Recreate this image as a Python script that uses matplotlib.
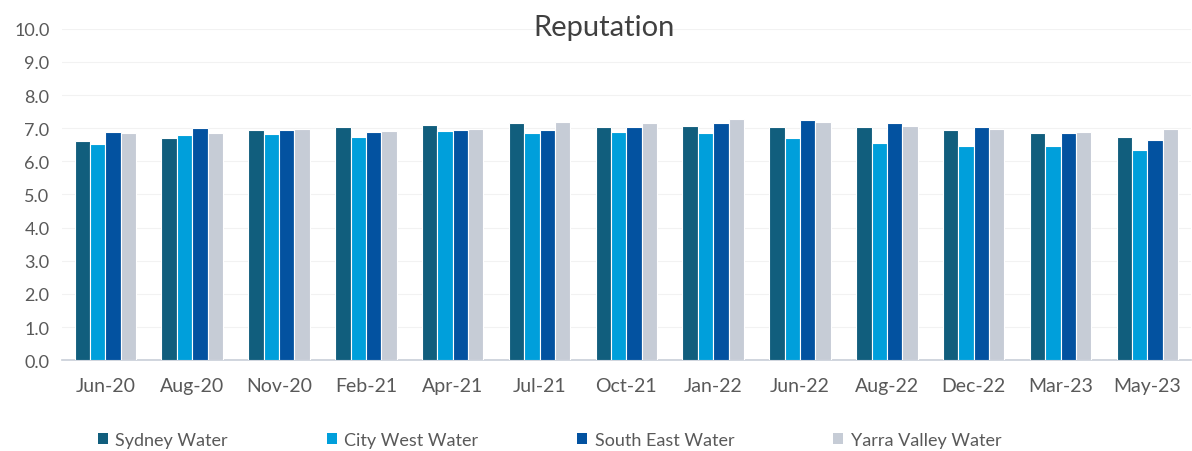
import matplotlib
matplotlib.use('Agg')
import matplotlib.pyplot as plt
import numpy as np
from matplotlib.patches import Patch

plt.rcParams['font.family'] = ['Lato', 'DejaVu Sans']

periods = ['Jun-20', 'Aug-20', 'Nov-20', 'Feb-21', 'Apr-21', 'Jul-21', 'Oct-21',
           'Jan-22', 'Jun-22', 'Aug-22', 'Dec-22', 'Mar-23', 'May-23']
sydney     = [6.62, 6.72, 6.94, 7.04, 7.11, 7.15, 7.04, 7.08, 7.04, 7.04, 6.95, 6.85, 6.75]
city_west  = [6.52, 6.79, 6.82, 6.75, 6.91, 6.85, 6.88, 6.85, 6.71, 6.55, 6.45, 6.45, 6.34]
south_east = [6.88, 7.01, 6.94, 6.88, 6.94, 6.94, 7.04, 7.15, 7.24, 7.15, 7.04, 6.85, 6.65]
yarra      = [6.85, 6.85, 6.98, 6.91, 6.98, 7.18, 7.15, 7.27, 7.18, 7.08, 6.98, 6.88, 6.98]

series = [('Sydney Water', sydney, '#115E7D'),
          ('City West Water', city_west, '#009FDB'),
          ('South East Water', south_east, '#0352A0'),
          ('Yarra Valley Water', yarra, '#C6CCD6')]

fig = plt.figure(figsize=(11.92, 4.52), dpi=100)
ax = fig.add_axes([0.052, 0.201, 0.947, 0.733])

x = np.arange(len(periods))
w = 0.177
for i, (name, vals, col) in enumerate(series):
    ax.bar(x + (i - 1.5) * w, vals, width=w, color=col, edgecolor='white',
           linewidth=0.8, zorder=3, label=name)

ax.set_xlim(-0.5, len(periods) - 0.5)
ax.set_ylim(0, 10)
ax.set_yticks(np.arange(0, 10.1, 1.0))
ax.set_yticklabels([f'{v:.1f}' for v in np.arange(0, 10.1, 1.0)])
ax.set_xticks(x)
ax.set_xticklabels(periods)
ax.tick_params(axis='both', length=0, colors='#595959')
ax.tick_params(axis='x', pad=12, labelsize=14)
ax.tick_params(axis='y', pad=9, labelsize=13)
ax.grid(axis='y', color='#F2F2F2', linewidth=0.8, zorder=0)
for s in ['top', 'right', 'left']:
    ax.spines[s].set_visible(False)
ax.spines['bottom'].set_color('#C8CED8')
ax.spines['bottom'].set_linewidth(1.2)

fig.text(0.507, 0.938, 'Reputation', ha='center', va='center', fontsize=21, color='#404040')

handles = [Patch(facecolor=c, edgecolor='none') for _, _, c in series]
fig.legend(handles, [n for n, _, _ in series], loc='center', ncol=4,
           bbox_to_anchor=(0.461, 0.025), frameon=False, fontsize=13,
           handlelength=0.55, handleheight=0.55, handletextpad=0.4,
           columnspacing=5.5, labelcolor='#595959')

fig.savefig('out.png', dpi=100)
